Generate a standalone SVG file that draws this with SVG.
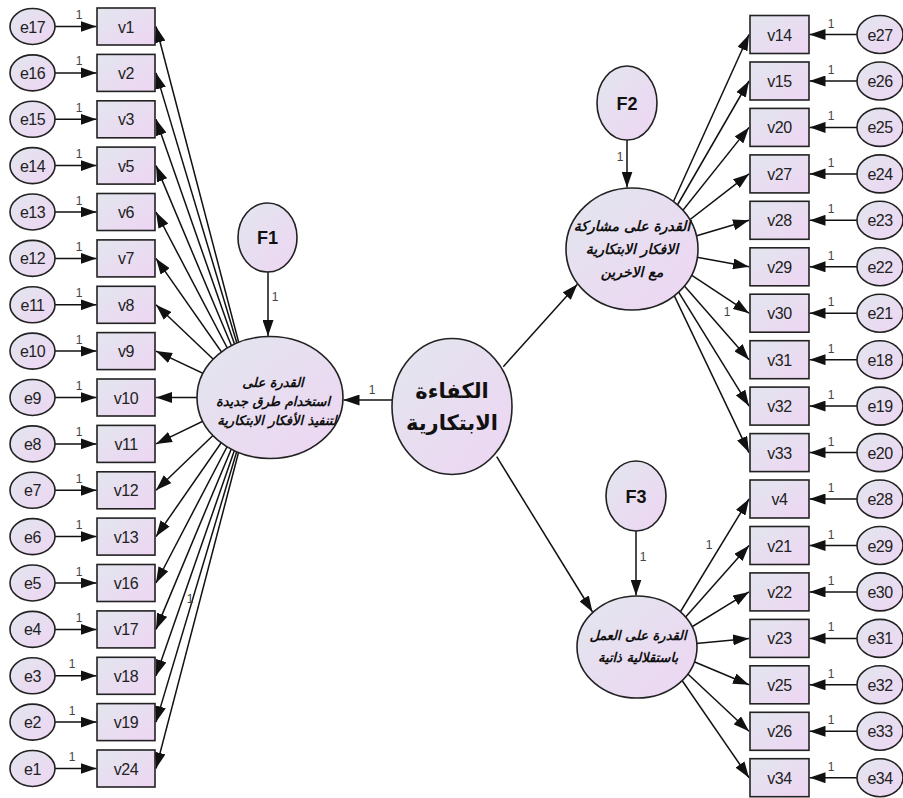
<svg xmlns="http://www.w3.org/2000/svg" width="903" height="798" viewBox="0 0 903 798">
<defs>
<linearGradient id="g" x1="0" y1="0" x2="1" y2="1">
<stop offset="0" stop-color="#e2e6ee"/>
<stop offset="1" stop-color="#eed5f3"/>
</linearGradient>
<marker id="a" markerUnits="userSpaceOnUse" markerWidth="16" markerHeight="11" refX="16" refY="5.5" orient="auto">
<path d="M0,0 L16,5.5 L0,11 z" fill="#111"/>
</marker>
<style>
.n{fill:url(#g);stroke:#222;stroke-width:1.6}
.t{font-family:"Liberation Sans",Arial,sans-serif;font-size:16px;fill:#222;text-anchor:middle;letter-spacing:-0.5px}
.b{font-family:"Liberation Sans",Arial,sans-serif;font-size:18px;font-weight:bold;fill:#111;text-anchor:middle}
.o{font-family:"Liberation Sans",Arial,sans-serif;font-size:12px;fill:#444;text-anchor:middle}
.ar{font-family:"DejaVu Sans",sans-serif;font-weight:bold;font-style:italic;font-size:13px;fill:#111;text-anchor:middle}
.ar2{font-size:14px}
.ac{font-family:"DejaVu Sans",sans-serif;font-weight:bold;font-size:21px;fill:#111;text-anchor:middle}
#conn line{stroke:#111;stroke-width:1.5;marker-end:url(#a)}
</style>
</defs>
<rect width="903" height="798" fill="#fff"/>
<g id="conn">
<line x1="32.5" y1="26.5" x2="96.5" y2="26.5"/>
<line x1="32.5" y1="72.9" x2="96.5" y2="72.9"/>
<line x1="32.5" y1="119.3" x2="96.5" y2="119.3"/>
<line x1="32.5" y1="165.6" x2="96.5" y2="165.6"/>
<line x1="32.5" y1="212" x2="96.5" y2="212"/>
<line x1="32.5" y1="258.4" x2="96.5" y2="258.4"/>
<line x1="32.5" y1="304.8" x2="96.5" y2="304.8"/>
<line x1="32.5" y1="351.1" x2="96.5" y2="351.1"/>
<line x1="32.5" y1="397.5" x2="96.5" y2="397.5"/>
<line x1="32.5" y1="443.9" x2="96.5" y2="443.9"/>
<line x1="32.5" y1="490.3" x2="96.5" y2="490.3"/>
<line x1="32.5" y1="536.6" x2="96.5" y2="536.6"/>
<line x1="32.5" y1="583" x2="96.5" y2="583"/>
<line x1="32.5" y1="629.4" x2="96.5" y2="629.4"/>
<line x1="32.5" y1="675.8" x2="96.5" y2="675.8"/>
<line x1="32.5" y1="722.1" x2="96.5" y2="722.1"/>
<line x1="32.5" y1="768.5" x2="96.5" y2="768.5"/>
<line x1="253" y1="397" x2="156" y2="26.5"/>
<line x1="253" y1="397" x2="156" y2="72.9"/>
<line x1="253" y1="397" x2="156" y2="119.3"/>
<line x1="253" y1="397" x2="156" y2="165.6"/>
<line x1="253" y1="397" x2="156" y2="212"/>
<line x1="253" y1="397" x2="156" y2="258.4"/>
<line x1="253" y1="397" x2="156" y2="304.8"/>
<line x1="253" y1="397" x2="156" y2="351.1"/>
<line x1="253" y1="397.5" x2="156" y2="397.5"/>
<line x1="253" y1="397" x2="156" y2="443.9"/>
<line x1="253" y1="397" x2="156" y2="490.3"/>
<line x1="253" y1="397" x2="156" y2="536.6"/>
<line x1="253" y1="397" x2="156" y2="583"/>
<line x1="253" y1="397" x2="156" y2="629.4"/>
<line x1="253" y1="397" x2="156" y2="675.8"/>
<line x1="253" y1="397" x2="156" y2="722.1"/>
<line x1="253" y1="397" x2="156" y2="768.5"/>
<line x1="652" y1="249" x2="749" y2="34.5"/>
<line x1="652" y1="249" x2="749" y2="81"/>
<line x1="652" y1="249" x2="749" y2="127.4"/>
<line x1="652" y1="249" x2="749" y2="173.9"/>
<line x1="652" y1="249" x2="749" y2="220.3"/>
<line x1="652" y1="249" x2="749" y2="266.8"/>
<line x1="652" y1="249" x2="749" y2="313.2"/>
<line x1="652" y1="249" x2="749" y2="359.7"/>
<line x1="652" y1="249" x2="749" y2="406.1"/>
<line x1="652" y1="249" x2="749" y2="452.6"/>
<line x1="659" y1="647" x2="749" y2="499"/>
<line x1="659" y1="647" x2="749" y2="545.5"/>
<line x1="659" y1="647" x2="749" y2="591.9"/>
<line x1="659" y1="647" x2="749" y2="638.4"/>
<line x1="659" y1="647" x2="749" y2="684.8"/>
<line x1="659" y1="647" x2="749" y2="731.3"/>
<line x1="659" y1="647" x2="749" y2="777.7"/>
<line x1="880" y1="34.5" x2="809.5" y2="34.5"/>
<line x1="880" y1="81" x2="809.5" y2="81"/>
<line x1="880" y1="127.4" x2="809.5" y2="127.4"/>
<line x1="880" y1="173.9" x2="809.5" y2="173.9"/>
<line x1="880" y1="220.3" x2="809.5" y2="220.3"/>
<line x1="880" y1="266.8" x2="809.5" y2="266.8"/>
<line x1="880" y1="313.2" x2="809.5" y2="313.2"/>
<line x1="880" y1="359.7" x2="809.5" y2="359.7"/>
<line x1="880" y1="406.1" x2="809.5" y2="406.1"/>
<line x1="880" y1="452.6" x2="809.5" y2="452.6"/>
<line x1="880" y1="499" x2="809.5" y2="499"/>
<line x1="880" y1="545.5" x2="809.5" y2="545.5"/>
<line x1="880" y1="591.9" x2="809.5" y2="591.9"/>
<line x1="880" y1="638.4" x2="809.5" y2="638.4"/>
<line x1="880" y1="684.8" x2="809.5" y2="684.8"/>
<line x1="880" y1="731.3" x2="809.5" y2="731.3"/>
<line x1="880" y1="777.7" x2="809.5" y2="777.7"/>
<line x1="268" y1="272" x2="268" y2="336"/>
<line x1="627" y1="140" x2="627" y2="187.6"/>
<line x1="636" y1="531" x2="636" y2="595.5"/>
<line x1="392" y1="400" x2="343.5" y2="400"/>
<line x1="503.3" y1="366.7" x2="577.4" y2="284.2"/>
<line x1="496.7" y1="456.7" x2="592.5" y2="612"/>
</g>
<g id="labels">
<text class="o" x="79" y="19">1</text>
<text class="o" x="79" y="65.4">1</text>
<text class="o" x="79" y="111.8">1</text>
<text class="o" x="79" y="158.1">1</text>
<text class="o" x="79" y="204.5">1</text>
<text class="o" x="79" y="250.9">1</text>
<text class="o" x="79" y="297.3">1</text>
<text class="o" x="79" y="343.6">1</text>
<text class="o" x="79" y="390">1</text>
<text class="o" x="79" y="436.4">1</text>
<text class="o" x="79" y="482.8">1</text>
<text class="o" x="79" y="529.1">1</text>
<text class="o" x="79" y="575.5">1</text>
<text class="o" x="79" y="621.9">1</text>
<text class="o" x="72" y="668.3">1</text>
<text class="o" x="72" y="714.6">1</text>
<text class="o" x="72" y="761">1</text>
<text class="o" x="831" y="27.5">1</text>
<text class="o" x="831" y="74">1</text>
<text class="o" x="831" y="120.4">1</text>
<text class="o" x="831" y="166.9">1</text>
<text class="o" x="831" y="213.3">1</text>
<text class="o" x="831" y="259.8">1</text>
<text class="o" x="831" y="306.2">1</text>
<text class="o" x="831" y="352.7">1</text>
<text class="o" x="831" y="399.1">1</text>
<text class="o" x="831" y="445.6">1</text>
<text class="o" x="831" y="492">1</text>
<text class="o" x="831" y="538.5">1</text>
<text class="o" x="831" y="584.9">1</text>
<text class="o" x="831" y="631.4">1</text>
<text class="o" x="831" y="677.8">1</text>
<text class="o" x="831" y="724.3">1</text>
<text class="o" x="831" y="770.7">1</text>
<text class="o" x="275" y="301">1</text>
<text class="o" x="620" y="161">1</text>
<text class="o" x="643" y="561">1</text>
<text class="o" x="372" y="394">1</text>
<text class="o" x="190" y="603">1</text>
<text class="o" x="727" y="316">1</text>
<text class="o" x="709" y="549">1</text>
</g>
<g id="nodes-left">
<g id="e17"><ellipse class="n" cx="32.5" cy="26.5" rx="22.5" ry="18"/><text class="t" x="32.5" y="32.5">e17</text></g>
<g id="v1"><rect class="n" x="97" y="8" width="58" height="37"/><text class="t" x="126" y="32.5">v1</text></g>
<g id="e16"><ellipse class="n" cx="32.5" cy="72.9" rx="22.5" ry="18"/><text class="t" x="32.5" y="78.9">e16</text></g>
<g id="v2"><rect class="n" x="97" y="54.4" width="58" height="37"/><text class="t" x="126" y="78.9">v2</text></g>
<g id="e15"><ellipse class="n" cx="32.5" cy="119.3" rx="22.5" ry="18"/><text class="t" x="32.5" y="125.3">e15</text></g>
<g id="v3"><rect class="n" x="97" y="100.8" width="58" height="37"/><text class="t" x="126" y="125.3">v3</text></g>
<g id="e14"><ellipse class="n" cx="32.5" cy="165.6" rx="22.5" ry="18"/><text class="t" x="32.5" y="171.6">e14</text></g>
<g id="v5"><rect class="n" x="97" y="147.1" width="58" height="37"/><text class="t" x="126" y="171.6">v5</text></g>
<g id="e13"><ellipse class="n" cx="32.5" cy="212" rx="22.5" ry="18"/><text class="t" x="32.5" y="218">e13</text></g>
<g id="v6"><rect class="n" x="97" y="193.5" width="58" height="37"/><text class="t" x="126" y="218">v6</text></g>
<g id="e12"><ellipse class="n" cx="32.5" cy="258.4" rx="22.5" ry="18"/><text class="t" x="32.5" y="264.4">e12</text></g>
<g id="v7"><rect class="n" x="97" y="239.9" width="58" height="37"/><text class="t" x="126" y="264.4">v7</text></g>
<g id="e11"><ellipse class="n" cx="32.5" cy="304.8" rx="22.5" ry="18"/><text class="t" x="32.5" y="310.8">e11</text></g>
<g id="v8"><rect class="n" x="97" y="286.3" width="58" height="37"/><text class="t" x="126" y="310.8">v8</text></g>
<g id="e10"><ellipse class="n" cx="32.5" cy="351.1" rx="22.5" ry="18"/><text class="t" x="32.5" y="357.1">e10</text></g>
<g id="v9"><rect class="n" x="97" y="332.6" width="58" height="37"/><text class="t" x="126" y="357.1">v9</text></g>
<g id="e9"><ellipse class="n" cx="32.5" cy="397.5" rx="22.5" ry="18"/><text class="t" x="32.5" y="403.5">e9</text></g>
<g id="v10"><rect class="n" x="97" y="379" width="58" height="37"/><text class="t" x="126" y="403.5">v10</text></g>
<g id="e8"><ellipse class="n" cx="32.5" cy="443.9" rx="22.5" ry="18"/><text class="t" x="32.5" y="449.9">e8</text></g>
<g id="v11"><rect class="n" x="97" y="425.4" width="58" height="37"/><text class="t" x="126" y="449.9">v11</text></g>
<g id="e7"><ellipse class="n" cx="32.5" cy="490.3" rx="22.5" ry="18"/><text class="t" x="32.5" y="496.3">e7</text></g>
<g id="v12"><rect class="n" x="97" y="471.8" width="58" height="37"/><text class="t" x="126" y="496.3">v12</text></g>
<g id="e6"><ellipse class="n" cx="32.5" cy="536.6" rx="22.5" ry="18"/><text class="t" x="32.5" y="542.6">e6</text></g>
<g id="v13"><rect class="n" x="97" y="518.1" width="58" height="37"/><text class="t" x="126" y="542.6">v13</text></g>
<g id="e5"><ellipse class="n" cx="32.5" cy="583" rx="22.5" ry="18"/><text class="t" x="32.5" y="589">e5</text></g>
<g id="v16"><rect class="n" x="97" y="564.5" width="58" height="37"/><text class="t" x="126" y="589">v16</text></g>
<g id="e4"><ellipse class="n" cx="32.5" cy="629.4" rx="22.5" ry="18"/><text class="t" x="32.5" y="635.4">e4</text></g>
<g id="v17"><rect class="n" x="97" y="610.9" width="58" height="37"/><text class="t" x="126" y="635.4">v17</text></g>
<g id="e3"><ellipse class="n" cx="32.5" cy="675.8" rx="22.5" ry="18"/><text class="t" x="32.5" y="681.8">e3</text></g>
<g id="v18"><rect class="n" x="97" y="657.3" width="58" height="37"/><text class="t" x="126" y="681.8">v18</text></g>
<g id="e2"><ellipse class="n" cx="32.5" cy="722.1" rx="22.5" ry="18"/><text class="t" x="32.5" y="728.1">e2</text></g>
<g id="v19"><rect class="n" x="97" y="703.6" width="58" height="37"/><text class="t" x="126" y="728.1">v19</text></g>
<g id="e1"><ellipse class="n" cx="32.5" cy="768.5" rx="22.5" ry="18"/><text class="t" x="32.5" y="774.5">e1</text></g>
<g id="v24"><rect class="n" x="97" y="750" width="58" height="37"/><text class="t" x="126" y="774.5">v24</text></g>
</g>
<g id="nodes-right">
<g id="v14"><rect class="n" x="750" y="15.5" width="59" height="38"/><text class="t" x="779.5" y="40.5">v14</text></g>
<g id="e27"><ellipse class="n" cx="880" cy="34.5" rx="23" ry="19"/><text class="t" x="880" y="40.5">e27</text></g>
<g id="v15"><rect class="n" x="750" y="62" width="59" height="38"/><text class="t" x="779.5" y="87">v15</text></g>
<g id="e26"><ellipse class="n" cx="880" cy="81" rx="23" ry="19"/><text class="t" x="880" y="87">e26</text></g>
<g id="v20"><rect class="n" x="750" y="108.4" width="59" height="38"/><text class="t" x="779.5" y="133.4">v20</text></g>
<g id="e25"><ellipse class="n" cx="880" cy="127.4" rx="23" ry="19"/><text class="t" x="880" y="133.4">e25</text></g>
<g id="v27"><rect class="n" x="750" y="154.9" width="59" height="38"/><text class="t" x="779.5" y="179.9">v27</text></g>
<g id="e24"><ellipse class="n" cx="880" cy="173.9" rx="23" ry="19"/><text class="t" x="880" y="179.9">e24</text></g>
<g id="v28"><rect class="n" x="750" y="201.3" width="59" height="38"/><text class="t" x="779.5" y="226.3">v28</text></g>
<g id="e23"><ellipse class="n" cx="880" cy="220.3" rx="23" ry="19"/><text class="t" x="880" y="226.3">e23</text></g>
<g id="v29"><rect class="n" x="750" y="247.8" width="59" height="38"/><text class="t" x="779.5" y="272.8">v29</text></g>
<g id="e22"><ellipse class="n" cx="880" cy="266.8" rx="23" ry="19"/><text class="t" x="880" y="272.8">e22</text></g>
<g id="v30"><rect class="n" x="750" y="294.2" width="59" height="38"/><text class="t" x="779.5" y="319.2">v30</text></g>
<g id="e21"><ellipse class="n" cx="880" cy="313.2" rx="23" ry="19"/><text class="t" x="880" y="319.2">e21</text></g>
<g id="v31"><rect class="n" x="750" y="340.7" width="59" height="38"/><text class="t" x="779.5" y="365.7">v31</text></g>
<g id="e18"><ellipse class="n" cx="880" cy="359.7" rx="23" ry="19"/><text class="t" x="880" y="365.7">e18</text></g>
<g id="v32"><rect class="n" x="750" y="387.1" width="59" height="38"/><text class="t" x="779.5" y="412.1">v32</text></g>
<g id="e19"><ellipse class="n" cx="880" cy="406.1" rx="23" ry="19"/><text class="t" x="880" y="412.1">e19</text></g>
<g id="v33"><rect class="n" x="750" y="433.6" width="59" height="38"/><text class="t" x="779.5" y="458.6">v33</text></g>
<g id="e20"><ellipse class="n" cx="880" cy="452.6" rx="23" ry="19"/><text class="t" x="880" y="458.6">e20</text></g>
<g id="v4"><rect class="n" x="750" y="480" width="59" height="38"/><text class="t" x="779.5" y="505">v4</text></g>
<g id="e28"><ellipse class="n" cx="880" cy="499" rx="23" ry="19"/><text class="t" x="880" y="505">e28</text></g>
<g id="v21"><rect class="n" x="750" y="526.5" width="59" height="38"/><text class="t" x="779.5" y="551.5">v21</text></g>
<g id="e29"><ellipse class="n" cx="880" cy="545.5" rx="23" ry="19"/><text class="t" x="880" y="551.5">e29</text></g>
<g id="v22"><rect class="n" x="750" y="572.9" width="59" height="38"/><text class="t" x="779.5" y="597.9">v22</text></g>
<g id="e30"><ellipse class="n" cx="880" cy="591.9" rx="23" ry="19"/><text class="t" x="880" y="597.9">e30</text></g>
<g id="v23"><rect class="n" x="750" y="619.4" width="59" height="38"/><text class="t" x="779.5" y="644.4">v23</text></g>
<g id="e31"><ellipse class="n" cx="880" cy="638.4" rx="23" ry="19"/><text class="t" x="880" y="644.4">e31</text></g>
<g id="v25"><rect class="n" x="750" y="665.8" width="59" height="38"/><text class="t" x="779.5" y="690.8">v25</text></g>
<g id="e32"><ellipse class="n" cx="880" cy="684.8" rx="23" ry="19"/><text class="t" x="880" y="690.8">e32</text></g>
<g id="v26"><rect class="n" x="750" y="712.3" width="59" height="38"/><text class="t" x="779.5" y="737.3">v26</text></g>
<g id="e33"><ellipse class="n" cx="880" cy="731.3" rx="23" ry="19"/><text class="t" x="880" y="737.3">e33</text></g>
<g id="v34"><rect class="n" x="750" y="758.7" width="59" height="38"/><text class="t" x="779.5" y="783.7">v34</text></g>
<g id="e34"><ellipse class="n" cx="880" cy="777.7" rx="23" ry="19"/><text class="t" x="880" y="783.7">e34</text></g>
</g>
<g id="nodes-latent">
<g id="F1"><ellipse class="n" cx="267.5" cy="237.5" rx="29.5" ry="34.5"/><text class="b" x="267.5" y="244">F1</text></g>
<g id="F2"><ellipse class="n" cx="627" cy="103" rx="30" ry="37"/><text class="b" x="627" y="109.5">F2</text></g>
<g id="F3"><ellipse class="n" cx="636" cy="496" rx="30" ry="35"/><text class="b" x="636" y="502.5">F3</text></g>
<g id="factor1"><ellipse class="n" cx="270" cy="397.5" rx="73" ry="61"/>
<text class="ar" x="273" y="387">القدرة على</text>
<text class="ar" x="273" y="406">استخدام طرق جديدة</text>
<text class="ar" x="277" y="425">لتنفيذ الأفكار الابتكارية</text></g>
<g id="factor2"><ellipse class="n" cx="632" cy="249" rx="66" ry="61"/>
<text class="ar ar2" x="632" y="231">القدرة على مشاركة</text>
<text class="ar ar2" x="632" y="254">الافكار الابتكارية</text>
<text class="ar ar2" x="632" y="277">مع الاخرين</text></g>
<g id="factor3"><ellipse class="n" cx="637" cy="647" rx="60" ry="51"/>
<text class="ar" x="638" y="640">القدرة على العمل</text>
<text class="ar" x="638" y="662">باستقلالية ذاتية</text></g>
<g id="central"><ellipse class="n" cx="452" cy="406.5" rx="60" ry="68"/>
<text class="ac" x="452" y="398">الكفاءة</text>
<text class="ac" x="452" y="430">الابتكارية</text></g>
</g>
</svg>
